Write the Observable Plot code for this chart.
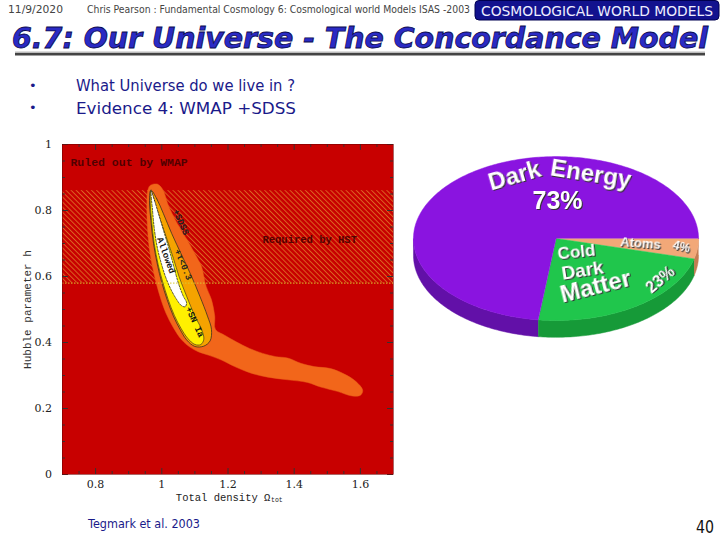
<!DOCTYPE html>
<html><head><meta charset="utf-8">
<script src="https://cdn.jsdelivr.net/npm/d3@7"></script>
<script src="https://cdn.jsdelivr.net/npm/@observablehq/plot@0.6"></script>
<style>
body{margin:0;width:720px;height:540px;position:relative;background:#fff;overflow:hidden}
.abs{position:absolute}
</style></head><body>
<svg class="abs" style="left:0;top:0" width="720" height="130">
  <text x="8" y="13" font-family="DejaVu Sans" font-size="10" fill="#444" textLength="55" lengthAdjust="spacingAndGlyphs">11/9/2020</text>
  <text x="87" y="13" font-family="DejaVu Sans" font-size="10" fill="#444" textLength="383" lengthAdjust="spacingAndGlyphs">Chris Pearson : Fundamental Cosmology 6: Cosmological world Models  ISAS -2003</text>
  <rect x="475" y="0.5" width="244" height="19.5" rx="4" fill="#12128e" stroke="#000050"/>
  <text x="481" y="15.5" font-family="DejaVu Sans" font-size="14" fill="#eef" textLength="232" lengthAdjust="spacingAndGlyphs">COSMOLOGICAL WORLD MODELS</text>
  <text x="12" y="48" font-family="DejaVu Sans" font-weight="bold" font-style="italic" font-size="28" fill="#2a2ac4" stroke="#0a0a50" stroke-width="0.8" textLength="696" lengthAdjust="spacingAndGlyphs">6.7: Our Universe - The Concordance Model</text>
  <rect x="15" y="51.5" width="690" height="1.5" fill="#bbb"/>
  <rect x="15" y="53" width="690" height="2.5" fill="#444"/>
  <text x="29" y="90" font-family="DejaVu Sans" font-size="13" fill="#1a1a8a">•</text>
  <text x="76" y="90.5" font-family="DejaVu Sans" font-size="15" fill="#1a1a8a" textLength="219" lengthAdjust="spacingAndGlyphs">What Universe do we live in ?</text>
  <text x="29" y="112" font-family="DejaVu Sans" font-size="13" fill="#1a1a8a">•</text>
  <text x="76" y="113.5" font-family="DejaVu Sans" font-size="16.5" fill="#1a1a8a" textLength="220" lengthAdjust="spacingAndGlyphs">Evidence 4: WMAP +SDSS</text>
</svg>
<div id="contour" class="abs" style="left:0;top:130px"></div>
<div id="pie" class="abs" style="left:400px;top:130px"></div>
<svg class="abs" style="left:0;top:505px" width="720" height="35">
  <text x="88" y="23" font-family="DejaVu Sans" font-size="12" fill="#1a1a8a" textLength="112" lengthAdjust="spacingAndGlyphs">Tegmark et al. 2003</text>
  <text x="696" y="28" font-family="DejaVu Sans" font-size="17" fill="#111" textLength="18" lengthAdjust="spacingAndGlyphs">40</text>
</svg>
<script>
// ---------- contour plot data (Total density Ω_tot, Hubble parameter h) ----------
const xTicks = [0.8, 1, 1.2, 1.4, 1.6];
const xTickLabels = ["0.8", "1", "1.2", "1.4", "1.6"];
const yTicks = [0, 0.2, 0.4, 0.6, 0.8, 1];
const yTickLabels = ["0", "0.2", "0.4", "0.6", "0.8", "1"];
const xMinor = [0.75,0.85,0.9,0.95,1.05,1.1,1.15,1.25,1.3,1.35,1.45,1.5,1.55,1.65];
const yMinor = [0.05,0.1,0.15,0.25,0.3,0.35,0.45,0.5,0.55,0.65,0.7,0.75,0.85,0.9,0.95];
const hstBand = [0.58, 0.86];

const wmapContour = [[0.965,0.876],[0.986,0.88],[1.002,0.865],[1.022,0.81],[1.047,0.76],[1.077,0.71],[1.102,0.665],[1.12,0.63],[1.127,0.6],[1.134,0.57],[1.15,0.53],[1.16,0.48],[1.162,0.44],[1.19,0.422],[1.225,0.402],[1.265,0.382],[1.305,0.367],[1.345,0.357],[1.38,0.353],[1.42,0.337],[1.46,0.327],[1.51,0.321],[1.55,0.305],[1.585,0.283],[1.607,0.255],[1.6,0.24],[1.575,0.238],[1.53,0.252],[1.48,0.265],[1.44,0.279],[1.38,0.287],[1.32,0.295],[1.27,0.307],[1.22,0.327],[1.18,0.347],[1.14,0.362],[1.11,0.372],[1.085,0.386],[1.06,0.408],[1.035,0.445],[1.012,0.49],[0.993,0.545],[0.976,0.61],[0.963,0.68],[0.956,0.76],[0.955,0.82],[0.957,0.858]];
const tauContour = [[0.967,0.862],[0.985,0.835],[1.005,0.79],[1.03,0.73],[1.06,0.665],[1.09,0.6],[1.115,0.54],[1.138,0.48],[1.15,0.44],[1.146,0.405],[1.127,0.389],[1.10,0.388],[1.075,0.408],[1.055,0.44],[1.035,0.48],[1.016,0.53],[0.999,0.585],[0.987,0.635],[0.975,0.70],[0.967,0.77],[0.963,0.83]];
const snContour = [[0.967,0.86],[0.98,0.82],[0.996,0.77],[1.015,0.715],[1.035,0.655],[1.052,0.6],[1.075,0.54],[1.10,0.48],[1.12,0.44],[1.127,0.41],[1.118,0.394],[1.10,0.394],[1.078,0.413],[1.058,0.443],[1.038,0.482],[1.019,0.531],[1.002,0.586],[0.989,0.636],[0.977,0.70],[0.969,0.77],[0.965,0.83]];
const allowedContour = [[0.968,0.858],[0.978,0.83],[0.99,0.79],[1.005,0.74],[1.02,0.69],[1.035,0.635],[1.05,0.58],[1.065,0.54],[1.075,0.52],[1.07,0.508],[1.058,0.513],[1.045,0.53],[1.028,0.56],[1.012,0.597],[0.999,0.638],[0.987,0.685],[0.978,0.74],[0.972,0.80]];

const contourLabels = [
  {x: 1.058, y: 0.765, text: "+SDSS", rotate: 66, fill: "#222"},
  {x: 1.013, y: 0.664, text: "Allowed", rotate: 70, fill: "#111"},
  {x: 1.065, y: 0.636, text: "+\u03c4<0.3", rotate: 67, fill: "#222"},
  {x: 1.10, y: 0.462, text: "+SN Ia", rotate: 65, fill: "#111"}
];

const mono = "Liberation Mono";
const serif = "DejaVu Serif";
const X = d => d[0], Y = d => d[1];

const contour = Plot.plot({
  width: 400, height: 380,
  marginLeft: 62, marginRight: 7, marginTop: 14, marginBottom: 36,
  x: {domain: [0.7, 1.7], axis: null},
  y: {domain: [0, 1], axis: null},
  style: {background: "transparent", overflow: "visible"},
  marks: [
    Plot.rect([0], {x1: 0.7, x2: 1.7, y1: 0, y2: 1, fill: "#c80000"}),
    Plot.rect([0], {x1: 0.7, x2: 1.7, y1: hstBand[0], y2: hstBand[1], fill: "url(#hatch)"}),
    Plot.line(wmapContour, {x: X, y: Y, fill: "#f2661a", stroke: "#e85c18", strokeWidth: 0.5, curve: "catmull-rom-closed"}),
    Plot.line(tauContour, {x: X, y: Y, fill: "#f5a300", stroke: "#222", strokeWidth: 0.7, curve: "catmull-rom-closed"}),
    Plot.line(snContour, {x: X, y: Y, fill: "#fff000", stroke: "#222", strokeWidth: 0.6, curve: "catmull-rom-closed"}),
    Plot.line(allowedContour, {x: X, y: Y, fill: "#ffffff", stroke: "#111", strokeWidth: 0.7, strokeDasharray: "2,1.5", curve: "catmull-rom-closed"}),
    Plot.ruleY([hstBand[0]], {stroke: "#d8c830", strokeWidth: 1, strokeDasharray: "1.5,1.5"}),
    Plot.text(contourLabels, {x: "x", y: "y", text: "text", rotate: "rotate", fill: "fill", fontFamily: mono, fontWeight: "bold", fontSize: 9}),
    Plot.text(["Ruled out by WMAP"], {x: 0.724, y: 0.945, text: d => d, textAnchor: "start", fontFamily: mono, fontWeight: "bold", fontSize: 11.5, fill: "#3a0000", fillOpacity: 0.85}),
    Plot.text(["Required by HST"], {x: 1.304, y: 0.712, text: d => d, textAnchor: "start", fontFamily: mono, fontWeight: "bold", fontSize: 10.5, fill: "#3a0000", fillOpacity: 0.85}),
    // inward ticks on all four sides
    Plot.ruleX(xTicks, {y1: 0, y2: 0.018, stroke: "#333"}),
    Plot.ruleX(xTicks, {y1: 0.982, y2: 1, stroke: "#333"}),
    Plot.ruleX(xMinor, {y1: 0, y2: 0.009, stroke: "#333"}),
    Plot.ruleX(xMinor, {y1: 0.991, y2: 1, stroke: "#333"}),
    Plot.ruleY(yTicks, {x1: 0.7, x2: 0.718, stroke: "#333"}),
    Plot.ruleY(yTicks, {x1: 1.682, x2: 1.7, stroke: "#333"}),
    Plot.ruleY(yMinor, {x1: 0.7, x2: 0.709, stroke: "#333"}),
    Plot.ruleY(yMinor, {x1: 1.691, x2: 1.7, stroke: "#333"}),
    Plot.frame({stroke: "#700", strokeWidth: 0.6}),
    // tick labels
    Plot.text(xTicks, {x: d => d, y: -0.03, text: (d, i) => xTickLabels[i], fontFamily: serif, fontSize: 11, fill: "#222"}),
    Plot.text(yTicks, {x: 0.668, y: d => d, text: (d, i) => yTickLabels[i], textAnchor: "end", fontFamily: serif, fontSize: 11, fill: "#222"}),
    // axis titles
    Plot.text(["Total density \u03a9"], {x: 1.328, y: -0.07, text: d => d, textAnchor: "end", fontFamily: mono, fontSize: 10.5, fill: "#222"}),
    Plot.text(["tot"], {x: 1.33, y: -0.078, text: d => d, textAnchor: "start", fontFamily: mono, fontSize: 6.5, fill: "#222"}),
    Plot.text(["Hubble parameter h"], {x: 0.594, y: 0.5, text: d => d, rotate: -90, fontFamily: mono, fontSize: 11, fill: "#333"})
  ]
});
const defs = d3.select(contour).insert("defs", ":first-child");
const pat = defs.append("pattern").attr("id", "hatch").attr("patternUnits", "userSpaceOnUse")
  .attr("width", 3.6).attr("height", 6).attr("patternTransform", "rotate(-45)");
pat.append("rect").attr("width", 3.6).attr("height", 6).attr("fill", "#c80000");
pat.append("line").attr("x1", 0.5).attr("y1", 0).attr("x2", 0.5).attr("y2", 6)
  .attr("stroke", "#e8a838").attr("stroke-width", 0.6);
document.getElementById("contour").append(contour);

// ---------- pie chart data ----------
const pieLabels = ["Atoms", "Cold Dark Matter", "Dark Energy"];
const pieValues = [4, 23, 73];
const pieTopColors = ["#f2a878", "#20c64c", "#8a14e0"];
const pieSideColors = ["#c47c52", "#169a38", "#6210a8"];
const tilt = 0.575;   // ellipse ratio ry/rx
const depth = 0.118;  // thickness of the disc

const total = d3.sum(pieValues);
let cum = 0;
const slices = pieValues.map((v, i) => {
  const a0 = -360 * cum / total; cum += v;
  const a1 = -360 * cum / total;
  return {label: pieLabels[i], a0, a1, top: pieTopColors[i], side: pieSideColors[i]};
});
const rad = a => a * Math.PI / 180;
const arcPts = (a0, a1, dy = 0) => {
  const n = Math.max(2, Math.ceil(Math.abs(a1 - a0)));
  return d3.range(n + 1).map(k => {
    const a = rad(a0 + (a1 - a0) * k / n);
    return [Math.cos(a), tilt * Math.sin(a) + dy];
  });
};
const pieMarks = [];
for (const s of slices) {
  const hi = Math.min(s.a0, 0), lo = Math.max(s.a1, -180);
  if (hi > lo) {
    const topEdge = arcPts(hi, lo);
    const botEdge = arcPts(lo, hi, -depth);
    pieMarks.push(Plot.line(topEdge.concat(botEdge), {x: X, y: Y, fill: s.side, stroke: s.side, strokeWidth: 0.5}));
  }
}
for (const s of slices) {
  pieMarks.push(Plot.line([[0, 0]].concat(arcPts(s.a0, s.a1)), {x: X, y: Y, fill: s.top, stroke: s.top, strokeWidth: 0.5}));
}
const pieText = [
  {x: -0.291, y: 0.442, text: "Dark", size: 24, rotate: -16},
  {x: 0.245, y: 0.455, text: "Energy", size: 24, rotate: 9},
  {x: 0.011, y: 0.262, text: "73%", size: 25, rotate: 0},
  {x: 0.144, y: -0.098, text: "Cold", size: 17, rotate: -6},
  {x: 0.186, y: -0.225, text: "Dark", size: 19, rotate: -9},
  {x: 0.277, y: -0.335, text: "Matter", size: 24, rotate: -14},
  {x: 0.733, y: -0.29, text: "23%", size: 16, rotate: -40},
  {x: 0.593, y: -0.035, text: "Atoms", size: 13, rotate: 4},
  {x: 0.881, y: -0.058, text: "4%", size: 12, rotate: 14}
];
const sans = "Liberation Sans";
const pie = Plot.plot({
  width: 320, height: 240, margin: 0,
  x: {domain: [-1.091, 1.154], axis: null},
  y: {domain: [-0.926, 0.758], axis: null},
  style: {background: "transparent", overflow: "visible"},
  marks: [
    ...pieMarks,
    ...pieText.map(t => Plot.text([t], {x: "x", y: "y", text: "text", rotate: t.rotate, fontSize: t.size, fontWeight: "bold", fontFamily: sans, fill: "#fff"}))
  ]
});
d3.select(pie).selectAll("text").style("filter", "drop-shadow(1.6px 1.6px 0.4px #333)");
document.getElementById("pie").append(pie);
</script>
</body></html>
